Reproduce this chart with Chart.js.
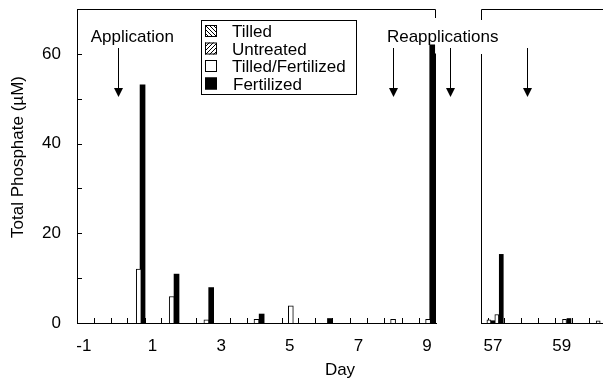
<!DOCTYPE html>
<html>
<head>
<meta charset="utf-8">
<script src="https://cdn.jsdelivr.net/npm/chart.js@4.4.1/dist/chart.umd.min.js"></script>
<style>
  html, body { margin: 0; padding: 0; background: #fff; }
  #wrap { position: relative; width: 603px; height: 383px; }
  #wrap canvas { position: absolute; left: 0; top: 0; }
</style>
</head>
<body>
<div id="wrap">
  <canvas id="late" width="603" height="383" style="z-index:1"></canvas>
  <canvas id="early" width="603" height="383" style="z-index:2"></canvas>
</div>
<script>
// ---- data ----
const seriesNames = ['Tilled', 'Untreated', 'Tilled/Fertilized', 'Fertilized'];

// days -1 .. 9 (left panel)
const tilledFertDays = [0.6, 1.56, 2.57, 4.03, 5.03, 8.01, 9.03];
const tilledFertValues = [12, 5.9, 0.7, 0.8, 3.8, 0.8, 0.8];
const fertDays = [0.71, 1.7, 2.71, 4.18, 6.17, 9.15, 9.22];
const fertValues = [53.1, 10.9, 7.9, 2.0, 1.0, 62, 60];

// days 57 .. 60 (right panel)
const tilledFertDaysLate = [56.88, 57.11, 59.08, 60.06];
const tilledFertValuesLate = [0.7, 1.9, 0.8, 0.5];
const fertDaysLate = [56.99, 57.24, 59.21];
const fertValuesLate = [0.5, 15.3, 1.0];

// Tilled and Untreated: no bars visible above the axis
const tilledDays = [];
const tilledValues = [];
const untreatedDays = [];
const untreatedValues = [];

// axes
const dayLabelsEarly = [-1, 1, 3, 5, 7, 9];
const dayLabelsLate = [57, 59];
const sampleTicksEarly = [-0.7, -0.22, 0.27, 0.77, 1.26, 1.75, 2.28, 2.76, 3.26, 3.75,
                          4.23, 4.77, 5.24, 5.74, 6.23, 6.76, 7.25, 7.75, 8.27, 8.77];
const sampleTicksLate = [56.85, 57.32, 57.82, 58.3, 58.8, 59.29, 59.8];
const yLabels = [0, 20, 40, 60];
const yMinorTicks = [10, 20, 30, 40, 50, 60];

// application arrows
const applicationDays = [0];
const reapplicationDaysEarly = [8, 9.67];
const reapplicationDaysLate = [57.98];

// ---- styles ----
const FAMILY = '"Liberation Sans", Arial, Helvetica, sans-serif';
const font = { family: FAMILY, size: 17 };
const fontCss = '17px ' + FAMILY;

function hatch(forward) {
    const s = 4;
    const c = document.createElement('canvas');
    c.width = s; c.height = s;
    const g = c.getContext('2d');
    g.fillStyle = '#fff';
    g.fillRect(0, 0, s, s);
    g.strokeStyle = '#000';
    g.lineWidth = 1;
    g.beginPath();
    if (forward) {
        g.moveTo(-1, s + 1); g.lineTo(s + 1, -1);
        g.moveTo(-1, 1); g.lineTo(1, -1);
        g.moveTo(s - 1, s + 1); g.lineTo(s + 1, s - 1);
    } else {
        g.moveTo(-1, -1); g.lineTo(s + 1, s + 1);
        g.moveTo(s - 1, -1); g.lineTo(s + 1, 1);
        g.moveTo(-1, s - 1); g.lineTo(1, s + 1);
    }
    g.stroke();
    return g.createPattern(c, 'repeat');
}

const fills = [hatch(false), hatch(true), '#fff', '#000'];
const borders = [1, 1, 1, 0];

function points(days, values) {
    return days.map((d, i) => ({ x: d, y: values[i] }));
}

function makeDatasets(sets, thickness) {
    return sets.map((s, i) => ({
        label: seriesNames[i],
        data: points(s[0], s[1]),
        backgroundColor: fills[i],
        borderColor: '#000',
        borderWidth: borders[i],
        barThickness: thickness,
        grouped: false
    }));
}

function noPadding(s) {
    s.paddingTop = 0;
    s.paddingBottom = 0;
    s.paddingLeft = 0;
    s.paddingRight = 0;
}

function drawArrow(ctx, x, top) {
    ctx.beginPath();
    ctx.moveTo(x, top + 39);
    ctx.lineTo(x, top + 80);
    ctx.stroke();
    ctx.beginPath();
    ctx.moveTo(x - 4.5, top + 79);
    ctx.lineTo(x + 4.5, top + 79);
    ctx.lineTo(x, top + 88);
    ctx.closePath();
    ctx.fill();
}

function inwardTicks(chart, xTicks, yTicks) {
    const ctx = chart.ctx;
    const area = chart.chartArea;
    const xs = chart.scales.x, ys = chart.scales.y;
    ctx.save();
    ctx.strokeStyle = '#000';
    ctx.lineWidth = 1;
    ctx.beginPath();
    xTicks.forEach(v => {
        const px = Math.round(xs.getPixelForValue(v)) + 0.5;
        ctx.moveTo(px, area.bottom);
        ctx.lineTo(px, area.bottom - 5);
    });
    yTicks.forEach(v => {
        const py = Math.round(ys.getPixelForValue(v)) + 0.5;
        ctx.moveTo(area.left, py);
        ctx.lineTo(area.left + 5, py);
    });
    ctx.stroke();
    ctx.restore();
}

const earlyDecor = {
    id: 'earlyDecor',
    beforeDatasetsDraw(chart) {
        inwardTicks(chart, sampleTicksEarly, yMinorTicks);
    },
    afterDraw(chart) {
        const ctx = chart.ctx;
        const area = chart.chartArea;
        const xs = chart.scales.x;
        ctx.save();
        ctx.strokeStyle = '#000';
        ctx.fillStyle = '#000';
        ctx.lineWidth = 1;

        // top frame with short drop at the break
        ctx.beginPath();
        ctx.moveTo(area.left, area.top + 0.5);
        ctx.lineTo(area.right - 0.5, area.top + 0.5);
        ctx.lineTo(area.right - 0.5, area.top + 9);
        ctx.stroke();

        // arrows and labels
        applicationDays.concat(reapplicationDaysEarly).forEach(d => {
            drawArrow(ctx, Math.round(xs.getPixelForValue(d)) + 0.5, area.top);
        });
        ctx.font = fontCss;
        ctx.textAlign = 'left';
        ctx.textBaseline = 'alphabetic';
        ctx.fillText('Application', xs.getPixelForValue(-0.8), area.top + 33);
        ctx.fillText('Reapplications', xs.getPixelForValue(7.83), area.top + 33);

        // legend
        const lx = 201, ly = 20;
        ctx.strokeRect(lx + 0.5, ly + 0.5, 155, 74);
        chart.data.datasets.forEach((ds, i) => {
            const base = ly + 17 + i * 17.5;
            ctx.fillStyle = ds.backgroundColor;
            ctx.fillRect(205, base - 12, 12, 12);
            ctx.strokeRect(205.5, base - 11.5, 11, 11);
            ctx.fillStyle = '#000';
            ctx.fillText(ds.label, i === 3 ? 233 : 232, base);
        });

        // axis titles
        ctx.textAlign = 'center';
        ctx.fillText('Day', (area.left + chart.width) / 2, 375);
        ctx.translate(23, 157);
        ctx.rotate(-Math.PI / 2);
        ctx.fillText('Total Phosphate (\u00b5M)', 0, 0);
        ctx.restore();
    }
};

const lateDecor = {
    id: 'lateDecor',
    beforeDatasetsDraw(chart) {
        inwardTicks(chart, sampleTicksLate, []);
    },
    afterDraw(chart) {
        const ctx = chart.ctx;
        const area = chart.chartArea;
        const xs = chart.scales.x, ys = chart.scales.y;
        ctx.save();
        ctx.strokeStyle = '#000';
        ctx.fillStyle = '#000';
        ctx.lineWidth = 1;
        const lx = area.left + 0.5;
        ctx.beginPath();
        ctx.moveTo(lx, area.bottom);
        ctx.lineTo(lx, Math.round(ys.getPixelForValue(60)));
        ctx.moveTo(lx, area.top + 11);
        ctx.lineTo(lx, area.top + 0.5);
        ctx.lineTo(chart.width, area.top + 0.5);
        ctx.stroke();
        reapplicationDaysLate.forEach(d => {
            drawArrow(ctx, Math.round(xs.getPixelForValue(d)) + 0.5, area.top);
        });
        ctx.restore();
    }
};

function xAxis(min, max, labels) {
    return {
        type: 'linear',
        min: min,
        max: max,
        offset: false,
        afterBuildTicks: s => { s.ticks = labels.map(v => ({ value: v })); },
        afterFit: s => { s.height = 60; noPadding(s); },
        grid: { display: false, drawTicks: false, offset: false },
        border: { display: true, color: '#000', width: 1 },
        ticks: { color: '#000', font: font, padding: 13, maxRotation: 0 }
    };
}

new Chart(document.getElementById('early'), {
    type: 'bar',
    data: {
        datasets: makeDatasets([
            [tilledDays, tilledValues],
            [untreatedDays, untreatedValues],
            [tilledFertDays, tilledFertValues],
            [fertDays, fertValues]
        ], 5)
    },
    options: {
        responsive: false,
        animation: false,
        layout: { padding: { left: 0, top: 9, right: 167, bottom: 0 } },
        scales: {
            x: xAxis(-1.2, 9.26, dayLabelsEarly),
            y: {
                min: 0,
                max: 70,
                afterBuildTicks: s => { s.ticks = yLabels.map(v => ({ value: v })); },
                afterFit: s => { s.width = 77; noPadding(s); },
                grid: { display: false, drawTicks: false },
                border: { display: true, color: '#000', width: 1 },
                ticks: { color: '#000', font: font, padding: 16 }
            }
        },
        plugins: { legend: { display: false }, tooltip: { enabled: false } }
    },
    plugins: [earlyDecor]
});

new Chart(document.getElementById('late'), {
    type: 'bar',
    data: {
        datasets: makeDatasets([
            [[], []],
            [[], []],
            [tilledFertDaysLate, tilledFertValuesLate],
            [fertDaysLate, fertValuesLate]
        ], 4)
    },
    options: {
        responsive: false,
        animation: false,
        layout: { padding: { left: 481, top: 9, right: 0, bottom: 0 } },
        scales: {
            x: xAxis(56.65, 60.2, dayLabelsLate),
            y: { display: false, min: 0, max: 70, afterFit: noPadding }
        },
        plugins: { legend: { display: false }, tooltip: { enabled: false } }
    },
    plugins: [lateDecor]
});
</script>
</body>
</html>
